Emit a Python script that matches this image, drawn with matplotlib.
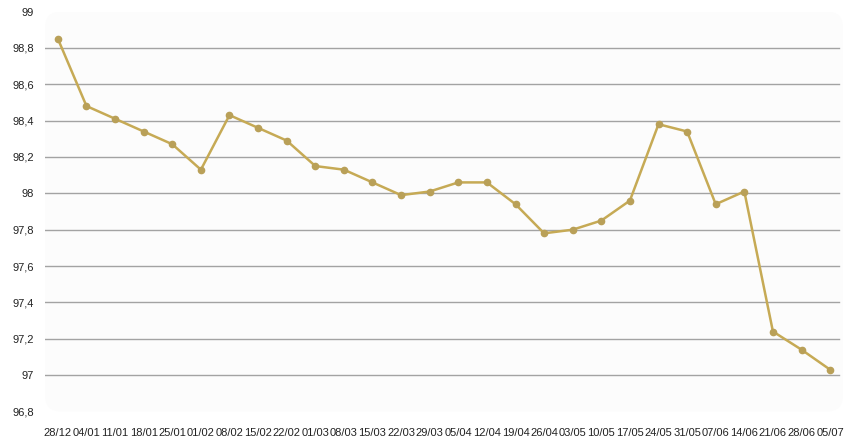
import matplotlib
matplotlib.use("Agg")
import matplotlib.pyplot as plt
from matplotlib.patches import FancyBboxPatch
from matplotlib.ticker import FuncFormatter

dates = ["28/12", "04/01", "11/01", "18/01", "25/01", "01/02", "08/02", "15/02",
         "22/02", "01/03", "08/03", "15/03", "22/03", "29/03", "05/04", "12/04",
         "19/04", "26/04", "03/05", "10/05", "17/05", "24/05", "31/05", "07/06",
         "14/06", "21/06", "28/06", "05/07"]
values = [98.85, 98.48, 98.41, 98.34, 98.27, 98.13, 98.43, 98.36,
          98.29, 98.15, 98.13, 98.06, 97.99, 98.01, 98.06, 98.06,
          97.94, 97.78, 97.80, 97.85, 97.96, 98.38, 98.34, 97.94,
          98.01, 97.24, 97.14, 97.03]
yticks = [96.8, 97.0, 97.2, 97.4, 97.6, 97.8, 98.0, 98.2, 98.4, 98.6, 98.8, 99.0]

plt.rcParams["font.family"] = ["Liberation Sans", "DejaVu Sans"]

fig = plt.figure(figsize=(8.56, 4.46), dpi=100)
ax = fig.add_axes([45 / 856, 1 - 411.5 / 446, 798 / 856, 400 / 446])
ax.set_facecolor("none")

# rounded light background behind the plot area
bg = FancyBboxPatch((0, 0), 1, 1, boxstyle="round,pad=0,rounding_size=0.02",
                    transform=ax.transAxes, facecolor="#fcfcfc", edgecolor="none",
                    zorder=0, mutation_aspect=2)
ax.add_patch(bg)

x = list(range(len(dates)))
ax.plot(x, values, color="#c6aa55", linewidth=1.8, marker="o", markersize=4.5,
        markerfacecolor="#b9a058", markeredgecolor="#b9a058", zorder=3)

ax.set_xlim(-0.45, len(dates) - 1 + 0.45)
ax.set_ylim(96.8, 99.0)

for t in yticks[1:-1]:
    ax.axhline(t, xmax=0.995, color="#a3a3a3", linewidth=1, zorder=1)

ax.set_yticks(yticks)
ax.yaxis.set_major_formatter(FuncFormatter(lambda v, _: f"{v:.1f}".rstrip("0").rstrip(".").replace(".", ",")))
ax.set_xticks(x)
ax.set_xticklabels(dates)
ax.tick_params(axis="both", length=0, labelsize=8, colors="#222222")
ax.tick_params(axis="y", pad=8)
ax.tick_params(axis="x", pad=12)
for s in ax.spines.values():
    s.set_visible(False)

fig.savefig("out.png", dpi=100)
